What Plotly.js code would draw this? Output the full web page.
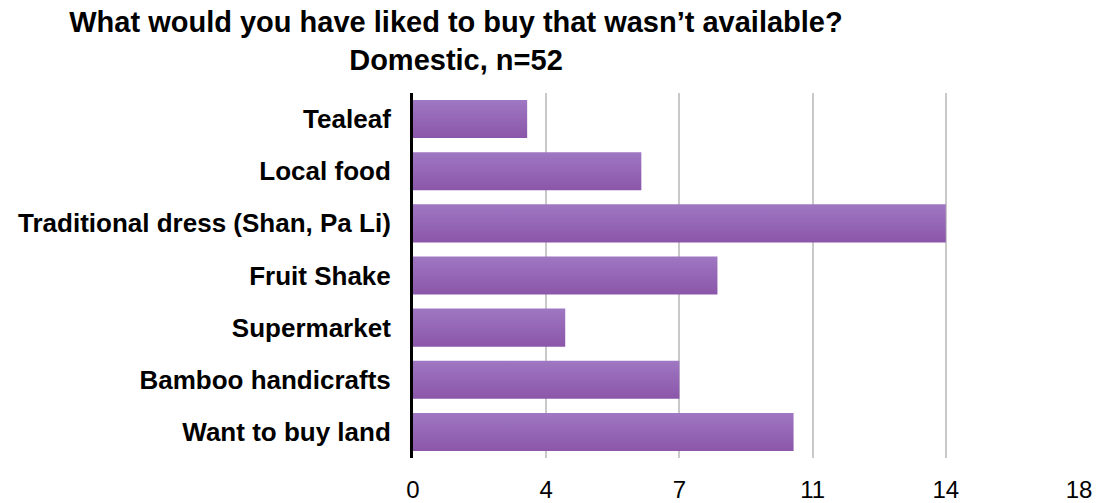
<!DOCTYPE html>
<html>
<head>
<meta charset="utf-8">
<script src="https://cdn.plot.ly/plotly-3.0.1.min.js"></script>
<style>html,body{margin:0;padding:0;background:#fff;}#chart{width:1098px;height:503px;}</style>
</head>
<body>
<div id="chart"></div>
<script>
const categories = ["Tealeaf", "Local food", "Traditional dress (Shan, Pa Li)", "Fruit Shake", "Supermarket", "Bamboo handicrafts", "Want to buy land"];
const counts = [3, 6, 14, 8, 4, 7, 10];
const tickValues = [0, 3.5, 7, 10.5, 14, 17.5];
const tickLabels = ["0", "4", "7", "11", "14", "18"];
const titleText = "<b>What would you have liked to buy that wasn’t available?<br>Domestic, n=52</b>";

const trace = {
  type: "bar",
  orientation: "h",
  y: categories,
  x: counts,
  marker: {color: "#9564b2", line: {width: 0}},
  hoverinfo: "x+y"
};

const layout = {
  width: 1098,
  height: 503,
  margin: {l: 413, r: 19, t: 93, b: 45},
  paper_bgcolor: "#ffffff",
  plot_bgcolor: "#ffffff",
  showlegend: false,
  bargap: 0.27,
  title: {
    text: titleText,
    font: {family: "Liberation Sans, Arial, sans-serif", size: 29, color: "#000"},
    xref: "container", x: 0.4153, xanchor: "center",
    yref: "container", y: 1 - 32 / 503, yanchor: "middle"
  },
  xaxis: {
    range: [0, 17.5],
    tickvals: tickValues,
    ticktext: tickLabels,
    showgrid: true,
    gridcolor: "#c9c9c9",
    gridwidth: 2,
    zeroline: false,
    showline: false,
    ticks: "",
    ticklabelstandoff: 15,
    tickfont: {family: "Liberation Sans, Arial, sans-serif", size: 24, color: "#000"},
    fixedrange: true
  },
  yaxis: {
    autorange: "reversed",
    showgrid: false,
    zeroline: false,
    showline: true,
    linecolor: "#000",
    linewidth: 3,
    ticks: "",
    ticklabelstandoff: 14,
    tickfont: {family: "Liberation Sans, Arial, sans-serif", size: 26, color: "#000", weight: "bold"},
    fixedrange: true
  }
};

Plotly.newPlot("chart", [trace], layout, {displayModeBar: false, staticPlot: true}).then(function(gd){
  const svg = gd.querySelector("svg.main-svg");
  const ns = "http://www.w3.org/2000/svg";
  let defs = svg.querySelector("defs");
  if (!defs) { defs = document.createElementNS(ns, "defs"); svg.insertBefore(defs, svg.firstChild); }
  const lg = document.createElementNS(ns, "linearGradient");
  lg.setAttribute("id", "barGrad");
  lg.setAttribute("x1", "0"); lg.setAttribute("y1", "0");
  lg.setAttribute("x2", "0"); lg.setAttribute("y2", "1");
  const s1 = document.createElementNS(ns, "stop");
  s1.setAttribute("offset", "0"); s1.setAttribute("stop-color", "#9f77c2");
  const s2 = document.createElementNS(ns, "stop");
  s2.setAttribute("offset", "1"); s2.setAttribute("stop-color", "#8b56a9");
  lg.appendChild(s1); lg.appendChild(s2); defs.appendChild(lg);
  gd.querySelectorAll(".bars .point path").forEach(function(p){
    p.style.fill = "url(#barGrad)";
  });
});
</script>
</body>
</html>
